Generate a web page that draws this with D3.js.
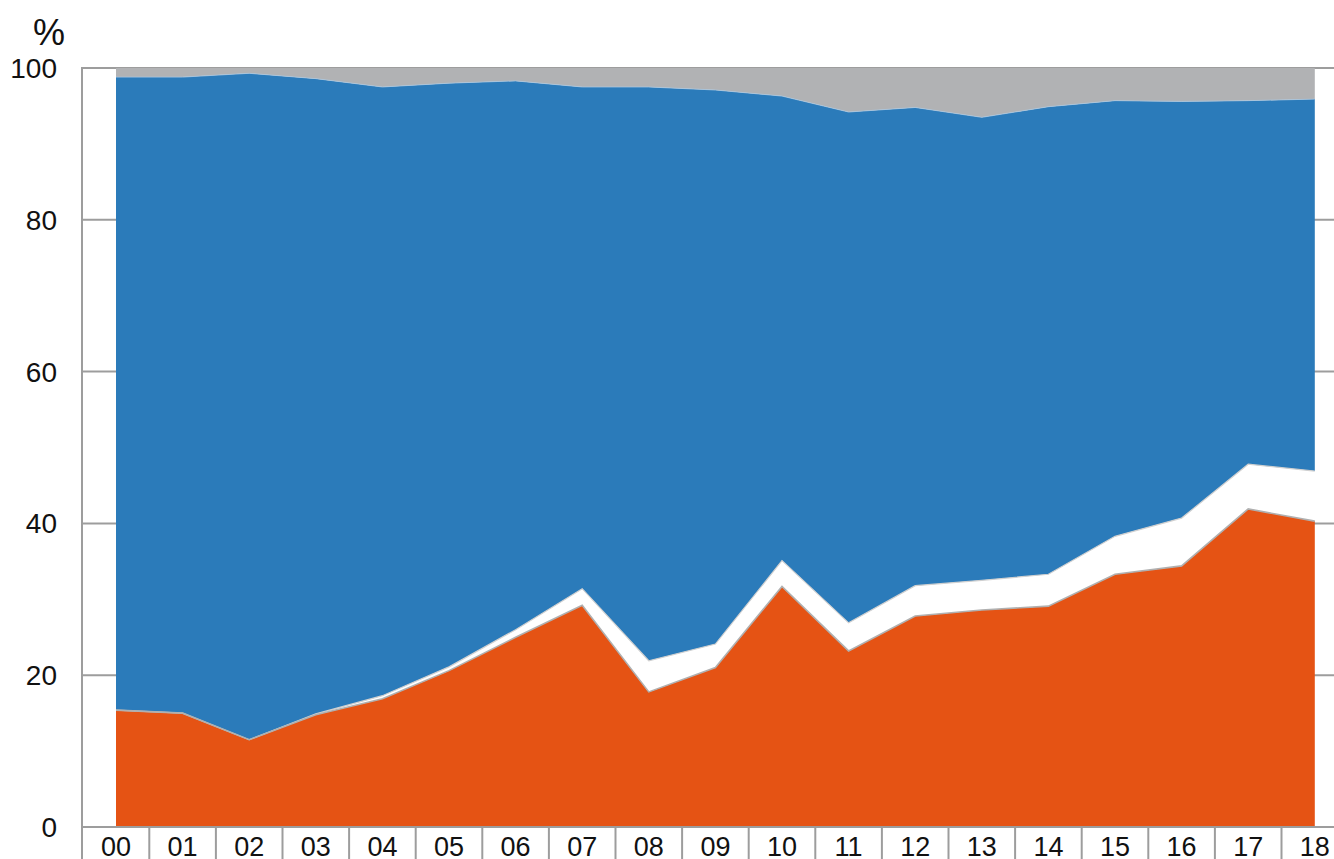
<!DOCTYPE html>
<html>
<head>
<meta charset="utf-8">
<script src="https://cdn.jsdelivr.net/npm/d3@7"></script>
<style>
  body { margin: 0; background: #fff; }
  text { font-family: "Liberation Sans", Arial, sans-serif; fill: #111; }
</style>
</head>
<body>
<div id="chart"></div>
<script>
// data (shares, %)
var years = ["00","01","02","03","04","05","06","07","08","09","10","11","12","13","14","15","16","17","18"];
var orange = [15.4,15.0,11.5,14.8,16.9,20.6,25.0,29.2,17.8,21.0,31.7,23.2,27.8,28.6,29.1,33.3,34.4,41.9,40.3];
var white  = [0,0,0,0.1,0.4,0.5,1.0,2.2,4.1,3.1,3.4,3.7,4.0,3.9,4.2,5.0,6.3,5.9,6.6];
var blue   = [83.4,83.8,87.8,83.7,80.2,76.9,72.3,66.1,75.6,73.0,61.2,67.3,63.0,61.0,61.6,57.4,54.9,47.9,49.0];
var grey   = [1.2,1.2,0.7,1.4,2.5,2.0,1.7,2.5,2.5,2.9,3.7,5.8,5.2,6.5,5.1,4.3,4.4,4.3,4.1];
var yTicks = [0,20,40,60,80,100];

var width = 1334, height = 859;
var colors = {orange: "#e55314", white: "#ffffff", blue: "#2b7bba", grey: "#b1b2b4"};
var keys = ["orange","white","blue","grey"];

var rows = years.map(function(y, i) {
  return {year: y, orange: orange[i], white: white[i], blue: blue[i], grey: grey[i]};
});

var svg = d3.select("#chart").append("svg")
  .attr("width", width)
  .attr("height", height);

// band scale for the axis cells, point positions at band centres
var xb = d3.scaleBand().domain(years).range([82.7, 82.7 + 66.6 * years.length]);
var x = function(d) { return xb(d) + xb.bandwidth() / 2; };

var y = d3.scaleLinear().domain([0, 100]).range([827, 68]);

// gridlines behind everything
svg.append("g")
  .selectAll("line")
  .data(yTicks)
  .enter().append("line")
    .attr("x1", 82).attr("x2", width)
    .attr("y1", function(d) { return y(d); })
    .attr("y2", function(d) { return y(d); })
    .attr("stroke", "#9d9d9d")
    .attr("stroke-width", 2);

// stacked areas
var series = d3.stack().keys(keys)(rows);

var area = d3.area()
  .x(function(d) { return x(d.data.year); })
  .y0(function(d) { return y(d[0]); })
  .y1(function(d) { return y(d[1]); });

svg.append("g")
  .selectAll("path")
  .data(series)
  .enter().append("path")
    .attr("fill", function(d) { return colors[d.key]; })
    .attr("d", area);

// thin outlines on the top of orange and white layers
var topLine = d3.line()
  .x(function(d) { return x(d.data.year); })
  .y(function(d) { return y(d[1]); });

svg.append("path")
  .datum(series[1])
  .attr("fill", "none")
  .attr("stroke", "#d0d0d0")
  .attr("stroke-width", 1.2)
  .attr("d", topLine);

svg.append("path")
  .datum(series[0])
  .attr("fill", "none")
  .attr("stroke", "#b0b0b0")
  .attr("stroke-width", 1.6)
  .attr("d", topLine);

svg.append("path")
  .datum(series[2])
  .attr("fill", "none")
  .attr("stroke", "#a9c6e0")
  .attr("stroke-width", 0.8)
  .attr("d", topLine);

// left axis line
svg.append("line")
  .attr("x1", 82).attr("x2", 82)
  .attr("y1", 67).attr("y2", height)
  .attr("stroke", "#9d9d9d")
  .attr("stroke-width", 2);

// bottom axis with separators between categories
svg.append("line")
  .attr("x1", 82).attr("x2", width)
  .attr("y1", 827).attr("y2", 827)
  .attr("stroke", "#9d9d9d")
  .attr("stroke-width", 2);

svg.append("g")
  .selectAll("line")
  .data(years.slice(1))
  .enter().append("line")
    .attr("x1", function(d) { return xb(d); })
    .attr("x2", function(d) { return xb(d); })
    .attr("y1", 827).attr("y2", height)
    .attr("stroke", "#9d9d9d")
    .attr("stroke-width", 2);

svg.append("g")
  .selectAll("text")
  .data(years)
  .enter().append("text")
    .attr("x", function(d) { return x(d); })
    .attr("y", 856)
    .attr("text-anchor", "middle")
    .style("font-size", "27px")
    .text(function(d) { return d; });

// y labels
svg.append("g")
  .selectAll("text")
  .data(yTicks)
  .enter().append("text")
    .attr("x", 57)
    .attr("y", function(d) { return y(d) + 10; })
    .attr("text-anchor", "end")
    .style("font-size", "28px")
    .text(function(d) { return d; });

svg.append("text")
  .attr("x", 49)
  .attr("y", 45)
  .attr("text-anchor", "middle")
  .style("font-size", "36px")
  .text("%");
</script>
</body>
</html>
